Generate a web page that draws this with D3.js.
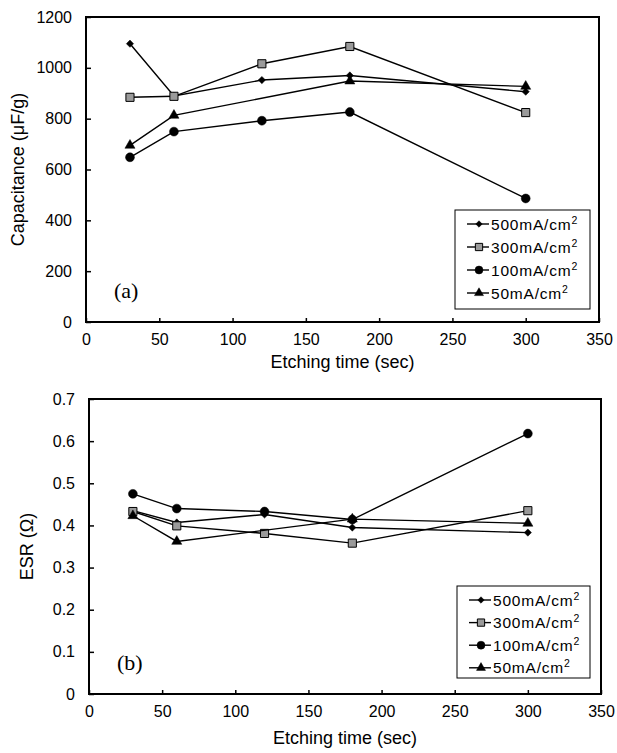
<!DOCTYPE html>
<html>
<head>
<meta charset="utf-8">
<script src="https://cdn.jsdelivr.net/npm/d3@7"></script>
<style>
  body { margin: 0; background: #fff; }
  text { font-family: "Liberation Sans", Arial, sans-serif; fill: #000; }
</style>
</head>
<body>
<div id="chart"></div>
<script>
// etching times (sec)
const times = [30, 60, 120, 180, 300]
const seriesNames = ['500mA/cm', '300mA/cm', '100mA/cm', '50mA/cm']

// (a) capacitance (uF/g), null = not measured
const cap500 = [1095, 889, 952, 970, 906]
const cap300 = [884, 888, 1016, 1084, 824]
const cap100 = [648, 749, 792, 826, 486]
const cap50 = [695, 813, null, 948, 927]

// (b) ESR (ohm)
const esr500 = [0.435, 0.407, 0.426, 0.395, 0.383]
const esr300 = [0.433, 0.399, 0.381, 0.358, 0.435]
const esr100 = [0.475, 0.440, 0.433, 0.414, 0.618]
const esr50 = [0.423, 0.362, null, 0.415, 0.405]

const xTicks = [0, 50, 100, 150, 200, 250, 300, 350]
const capTicks = [0, 200, 400, 600, 800, 1000, 1200]
const esrTicks = [0, 0.1, 0.2, 0.3, 0.4, 0.5, 0.6, 0.7]

const svg = d3.select('#chart').append('svg').attr('width', 617).attr('height', 753)

// marker for each series (diamond = square turned 45deg)
const markers = [
  { type: d3.symbolSquare, size: 26, rot: 45, fill: '#000' },
  { type: d3.symbolSquare, size: 66, rot: 0, fill: '#9a9a9a' },
  { type: d3.symbolCircle, size: 62, rot: 0, fill: '#000' },
  { type: d3.symbolTriangle, size: 44, rot: 0, fill: '#000' },
]

function drawPanel(p) {
  const x = d3.scaleLinear().domain([0, 350]).range([p.left, p.right])
  const y = d3.scaleLinear().domain(p.yDomain).range([p.bottom, p.top])
  const g = svg.append('g')

  // axes, ticks point inward
  g.append('g')
    .attr('transform', `translate(0,${p.bottom})`)
    .call(d3.axisBottom(x).tickValues(xTicks).tickSize(-4).tickPadding(12).tickFormat(d3.format('d')))
    .call((a) => a.select('.domain').remove())
    .call((a) => a.selectAll('text').style('font-size', '16px'))
  g.append('g')
    .attr('transform', `translate(${p.left},0)`)
    .call(d3.axisLeft(y).tickValues(p.yTicks).tickSize(-5).tickPadding(14).tickFormat(p.fmt))
    .call((a) => a.select('.domain').remove())
    .call((a) => a.selectAll('text').style('font-size', '16px'))
  g.selectAll('.tick line').attr('stroke', '#000').attr('stroke-width', 1.5)

  // frame
  g.append('rect')
    .attr('x', p.left).attr('y', p.top)
    .attr('width', p.right - p.left).attr('height', p.bottom - p.top)
    .attr('fill', 'none').attr('stroke', '#000').attr('stroke-width', 2)

  // axis titles
  g.append('text')
    .attr('x', (p.left + p.right) / 2).attr('y', p.bottom + p.xTitleDy)
    .attr('text-anchor', 'middle').style('font-size', '18px')
    .text('Etching time (sec)')
  g.append('text')
    .attr('transform', `translate(${p.yTitleX},${(p.top + p.bottom) / 2}) rotate(-90)`)
    .attr('text-anchor', 'middle').style('font-size', '18px')
    .text(p.yTitle)

  // panel letter
  g.append('text')
    .attr('x', p.left + 28).attr('y', p.bottom - 24)
    .style('font-family', '"Liberation Serif", "Times New Roman", serif').style('font-size', '22px')
    .text(p.letter)

  const sym = (m, k) => d3.symbol().type(m.type).size(m.size * k)

  // series
  const line = d3.line().x((d) => x(d.t)).y((d) => y(d.v))
  p.series.forEach((vals, i) => {
    const pts = times.map((t, j) => ({ t: t, v: vals[j] })).filter((d) => d.v != null)
    g.append('path').datum(pts)
      .attr('d', line).attr('fill', 'none').attr('stroke', '#000').attr('stroke-width', 1.4)
    g.selectAll(null).data(pts).join('path')
      .attr('transform', (d) => `translate(${x(d.t)},${y(d.v)}) rotate(${markers[i].rot})`)
      .attr('d', sym(markers[i], 1))
      .attr('fill', markers[i].fill).attr('stroke', '#000').attr('stroke-width', i === 1 ? 1 : 0.5)
  })

  // legend
  const lg = g.append('g')
  lg.append('rect')
    .attr('x', p.legend.x).attr('y', p.legend.y)
    .attr('width', p.legend.w).attr('height', p.legend.h)
    .attr('fill', '#fff').attr('stroke', '#000').attr('stroke-width', 1)
  seriesNames.forEach((name, i) => {
    const ly = p.legend.y + 14 + i * p.legend.step
    const lx = p.legend.x + 12
    lg.append('line')
      .attr('x1', lx).attr('x2', lx + 22).attr('y1', ly).attr('y2', ly)
      .attr('stroke', '#000').attr('stroke-width', 1.4)
    lg.append('path')
      .attr('transform', `translate(${lx + 12},${ly}) rotate(${markers[i].rot})`)
      .attr('d', sym(markers[i], 0.8))
      .attr('fill', markers[i].fill).attr('stroke', '#000').attr('stroke-width', i === 1 ? 1 : 0.5)
    const t = lg.append('text')
      .attr('x', lx + 24).attr('y', ly + 5.5)
      .style('font-size', '15.5px').style('letter-spacing', '0.8px')
    t.append('tspan').text(name)
    t.append('tspan').attr('dy', -6).style('font-size', '10.5px').text('2')
  })
}

drawPanel({
  left: 86, right: 599, top: 17, bottom: 322, xTitleDy: 46,
  yDomain: [0, 1200], yTicks: capTicks, fmt: d3.format('d'),
  yTitle: 'Capacitance (\u03bcF/g)', yTitleX: 24, letter: '(a)',
  series: [cap500, cap300, cap100, cap50],
  legend: { x: 455, y: 210, w: 135, h: 99, step: 23 },
})

drawPanel({
  left: 89, right: 601, top: 399, bottom: 694, xTitleDy: 50,
  yDomain: [0, 0.7], yTicks: esrTicks, fmt: (d) => (d === 0 ? '0' : d3.format('.1f')(d)),
  yTitle: 'ESR (\u03a9)', yTitleX: 33, letter: '(b)',
  series: [esr500, esr300, esr100, esr50],
  legend: { x: 457, y: 586, w: 133, h: 92, step: 22.6 },
})
</script>
</body>
</html>
